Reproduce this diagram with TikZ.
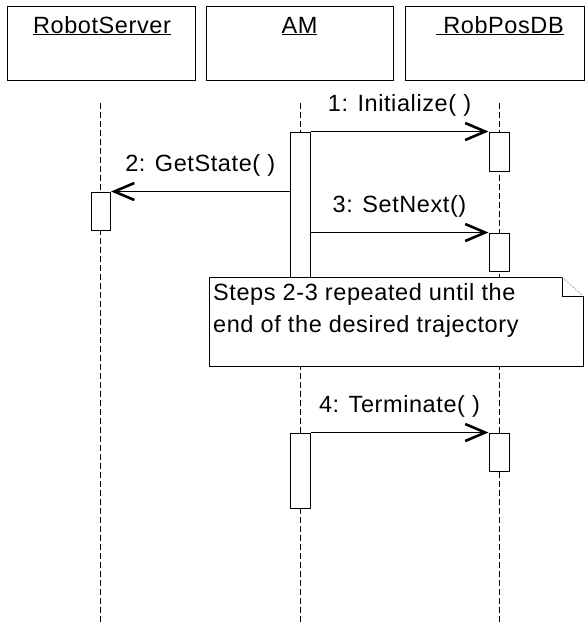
\documentclass[tikz,border=0pt]{standalone}
\usepackage{fontspec}
\setmainfont{Liberation Sans}[LetterSpace=2.5]
\usetikzlibrary{arrows.meta}

\begin{document}
\begin{tikzpicture}[x=1pt,y=-1pt,
    every node/.style={font=\fontsize{23.5}{32}\selectfont,inner sep=0pt},
    objbox/.style={draw,line width=1pt,minimum width=188pt,minimum height=74pt},
    actbox/.style={draw,fill=white,line width=1pt,minimum width=20pt},
    lifeline/.style={line width=1pt,dash pattern=on 6pt off 3pt},
    msg/.style={line width=1pt,-{Straight Barb[length=20pt,width=17pt,line width=2.6pt]}},
    msglabel/.style={midway,anchor=base,yshift=20pt}]
    \useasboundingbox (0,0) rectangle (587,625);
    % objects
    \node[objbox] (rsBox) at (101,43) {};
    \node[objbox,minimum width=187pt] (amBox) at (299.5,43) {};
    \node[objbox,minimum width=179pt] (rpBox) at (494.5,43) {};
    \node[anchor=base] (rsName) at (102,33) {\underline{RobotServer}};
    \node[anchor=base] (amName) at (299.5,33) {\underline{AM}};
    \node[anchor=base] (rpName) at (500,33) {\underline{\ RobPosDB}};
    % lifelines
    \coordinate (rsTop) at (100,103);
    \coordinate (rsEnd) at (100,625);
    \coordinate (amTop) at (300,103);
    \coordinate (amEnd) at (300,625);
    \coordinate (rpTop) at (499,103);
    \coordinate (rpEnd) at (499,625);
    \draw[lifeline] (rsTop) -- (rsEnd);
    \draw[lifeline] (amTop) -- (amEnd);
    \draw[lifeline] (rpTop) -- (rpEnd);
    % activations
    \node[actbox,minimum height=160pt] (amAct1) at (300,212) {};
    \node[actbox,minimum height=39pt] (rpAct1) at (499,151.5) {};
    \node[actbox,minimum width=19pt,minimum height=38pt] (rsAct) at (101,211) {};
    \node[actbox,minimum height=38pt] (rpAct2) at (499,252) {};
    \node[actbox,minimum height=75pt] (amAct2) at (300,470.5) {};
    \node[actbox,minimum height=38pt] (rpAct3) at (499,452) {};
    % messages
    \draw[msg] (amAct1.north east) -- (rpAct1.north west)
        node[msglabel] {1: Initialize( )};
    \draw[msg] (amAct1.west |- rsAct.north) -- (rsAct.north east)
        node[msglabel] {2: GetState( )};
    \draw[msg] (amAct1.east |- rpAct2.north) -- (rpAct2.north west)
        node[msglabel] {3: SetNext()};
    \draw[msg] (amAct2.north east) -- (rpAct3.north west)
        node[msglabel] {4: Terminate( )};
    % note
    \draw[line width=1pt,fill=white] (562,277) -- (209,277) -- (209,366) -- (583,366) -- (583,296);
    \draw[line width=1pt] (562,277) |- (583,296);
    \draw[line width=0.5pt,gray,dash pattern=on 2pt off 1.5pt] (562,277) -- (583,296);
    \node[anchor=north west,align=left] (noteText) at (213,283)
        {Steps 2-3 repeated until the\\end of the desired trajectory};
\end{tikzpicture}
\end{document}
